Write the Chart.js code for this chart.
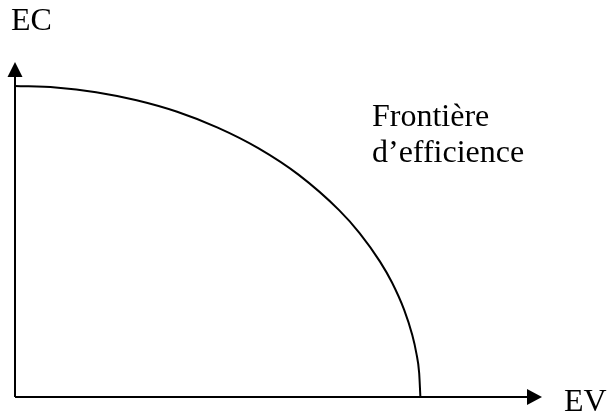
<!DOCTYPE html>
<html>
<head>
<meta charset="utf-8">
<script src="https://cdn.jsdelivr.net/npm/chart.js@4/dist/chart.umd.min.js"></script>
<style>
  html, body { margin: 0; padding: 0; background: #fff; }
  #wrap { width: 607px; height: 414px; position: relative; }
</style>
</head>
<body>
<div id="wrap"><canvas id="frontier"></canvas></div>
<script>
// EV (x) and EC (y) readings along the efficiency frontier
const evValues = [0, 1, 2, 3, 4, 5, 6, 7, 8, 8.5, 9, 9.3, 9.6, 9.8, 9.9, 9.97, 10];
const ecValues = [10, 9.95, 9.8, 9.54, 9.17, 8.66, 8.0, 7.14, 6.0, 5.27, 4.36, 3.68, 2.8, 1.99, 1.41, 0.77, 0];
const xAxisLabel = 'EV';
const yAxisLabel = 'EC';
const curveLabel = ['Frontière', 'd\u2019efficience'];

const FONT = '32px "Liberation Serif", "Times New Roman", serif';

// axes with arrow heads + the free text labels
const axesPlugin = {
  id: 'arrowAxes',
  afterDatasetsDraw(chart) {
    const { ctx, chartArea: a } = chart;
    ctx.save();
    ctx.strokeStyle = '#000';
    ctx.fillStyle = '#000';
    ctx.lineWidth = 2;

    ctx.beginPath();
    ctx.moveTo(a.left, a.bottom);
    ctx.lineTo(a.right - 12, a.bottom);
    ctx.moveTo(a.left, a.bottom);
    ctx.lineTo(a.left, a.top + 12);
    ctx.stroke();

    // x arrow
    ctx.beginPath();
    ctx.moveTo(a.right, a.bottom);
    ctx.lineTo(a.right - 15, a.bottom - 8);
    ctx.lineTo(a.right - 15, a.bottom + 8);
    ctx.closePath();
    ctx.fill();

    // y arrow
    ctx.beginPath();
    ctx.moveTo(a.left, a.top);
    ctx.lineTo(a.left - 7.5, a.top + 15);
    ctx.lineTo(a.left + 7.5, a.top + 15);
    ctx.closePath();
    ctx.fill();

    ctx.font = FONT;
    ctx.textBaseline = 'alphabetic';
    ctx.textAlign = 'left';
    ctx.fillText(yAxisLabel, 11, 30);
    ctx.fillText(xAxisLabel, 564, 411);
    ctx.fillText(curveLabel[0], 372, 126);
    ctx.fillText(curveLabel[1], 372, 162);
    ctx.restore();
  }
};

new Chart(document.getElementById('frontier'), {
  type: 'line',
  data: {
    datasets: [{
      data: evValues.map((v, i) => ({ x: v, y: ecValues[i] })),
      borderColor: '#000',
      borderWidth: 2,
      pointRadius: 0,
      fill: false,
      cubicInterpolationMode: 'monotone',
      clip: false
    }]
  },
  plugins: [axesPlugin],
  options: {
    responsive: true,
    maintainAspectRatio: false,
    animation: false,
    layout: { padding: { left: 15, right: 65, top: 62, bottom: 17 } },
    plugins: { legend: { display: false }, tooltip: { enabled: false } },
    scales: {
      x: { type: 'linear', min: 0, max: 13, display: false },
      y: { type: 'linear', min: 0, max: 10.77, display: false }
    }
  }
});
</script>
</body>
</html>
